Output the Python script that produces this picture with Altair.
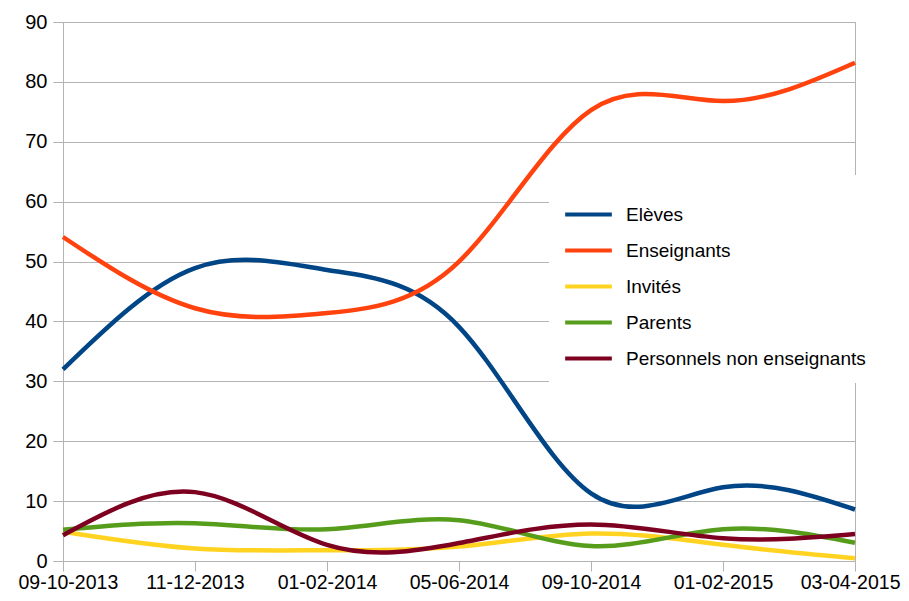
import altair as alt
import pandas as pd

dates = ["09-10-2013", "11-12-2013", "01-02-2014", "05-06-2014",
         "09-10-2014", "01-02-2015", "03-04-2015"]
series = ["Elèves", "Enseignants", "Invités", "Parents", "Personnels non enseignants"]
colors = ["#004586", "#ff420e", "#ffd320", "#579d1c", "#7e0021"]

eleves = [32.0, 48.9, 48.6, 39.1, 11.3, 12.3, 8.6]
enseignants = [54.1, 42.2, 41.4, 50.0, 75.3, 76.8, 83.2]
invites = [4.9, 2.1, 1.8, 2.4, 4.6, 2.7, 0.45]
parents = [5.2, 6.3, 5.3, 6.8, 2.5, 5.3, 3.05]
personnels = [4.3, 11.5, 2.7, 3.0, 6.1, 3.8, 4.5]

values = [eleves, enseignants, invites, parents, personnels]
rows = []
for name, vals in zip(series, values):
    for d, v in zip(dates, vals):
        rows.append({"date": d, "serie": name, "value": v})
df = pd.DataFrame(rows)

FONT = "Liberation Sans"
GRID = "#b3b3b3"

chart = alt.Chart(df).mark_line(interpolate="natural", strokeWidth=4.5).encode(
    x=alt.X("date:O", sort=dates, title=None,
            scale=alt.Scale(type="point", padding=0),
            axis=alt.Axis(labelAngle=0, labelFont=FONT, labelFontSize=19.5,
                          labelColor="black", tickColor=GRID, tickSize=10,
                          labelPadding=2, domain=False, grid=False,
                          labelFlush=True, labelFlushOffset=45,
                          labelOverlap=False)),
    y=alt.Y("value:Q", title=None,
            scale=alt.Scale(domain=[0, 90], nice=False),
            axis=alt.Axis(values=list(range(0, 91, 10)), labelFont=FONT,
                          labelFontSize=20, labelColor="black", tickColor=GRID,
                          tickSize=10, labelPadding=6, domain=False,
                          gridColor=GRID, gridWidth=1)),
    color=alt.Color("serie:N", title=None,
                    scale=alt.Scale(domain=series, range=colors),
                    legend=alt.Legend(orient="none", legendX=486, legendY=153,
                                      fillColor="white", padding=14,
                                      symbolType="stroke", symbolStrokeWidth=4,
                                      symbolSize=2180, labelFont=FONT,
                                      labelFontSize=19, labelColor="black",
                                      labelOffset=12, rowPadding=0,
                                      labelLimit=400)),
).properties(
    width=792, height=539,
    padding={"left": 55, "top": 14, "right": 46, "bottom": 32},
    autosize="none",
).configure_view(stroke=GRID, strokeWidth=1)

chart.save("out.html", embed_options={"renderer": "svg", "actions": False})
